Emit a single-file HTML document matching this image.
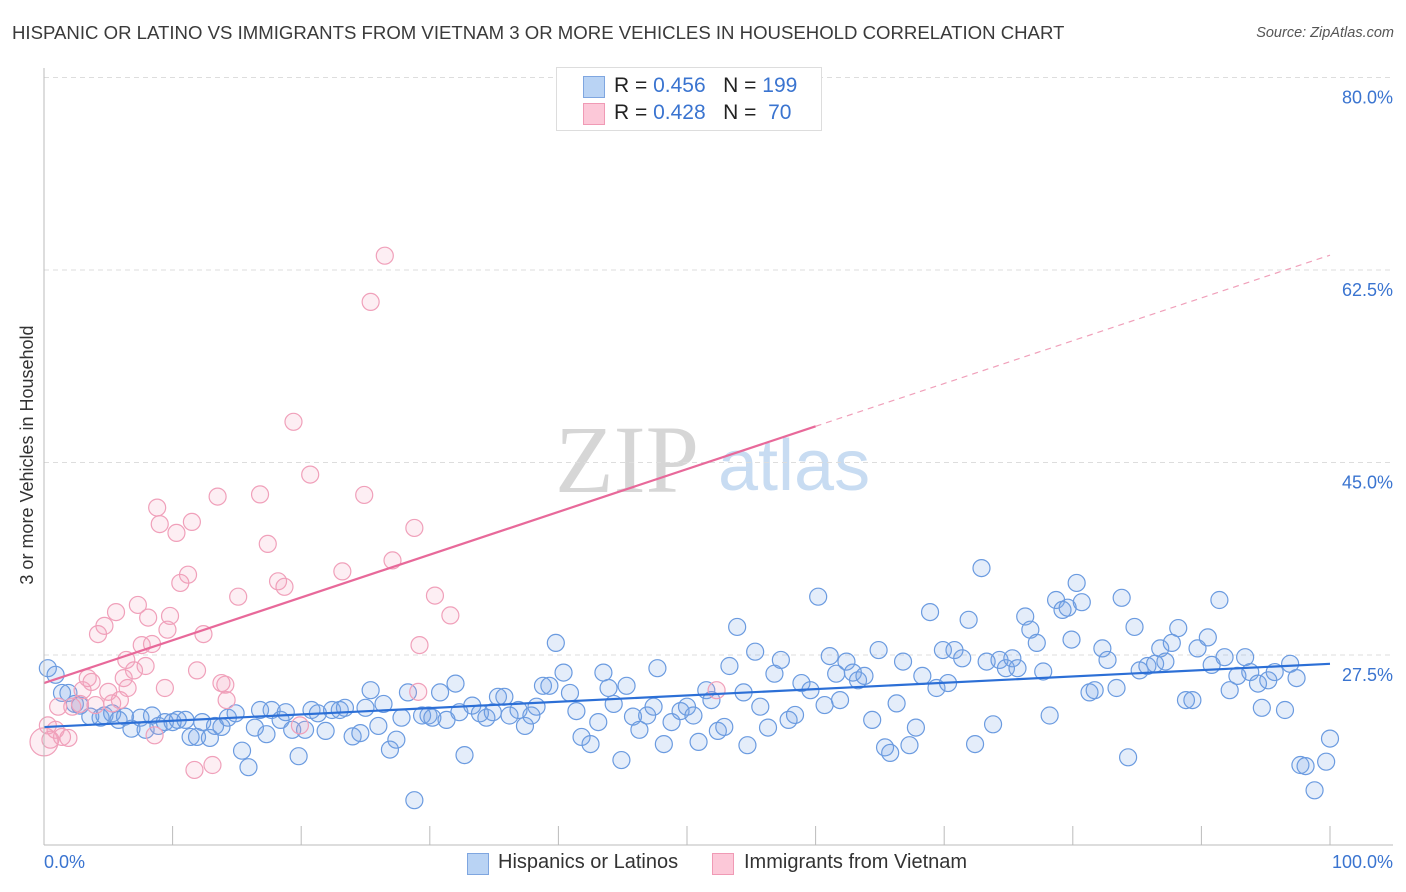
<!DOCTYPE html>
<html><head><meta charset="utf-8"><style>
body{margin:0;width:1406px;height:892px;background:#fff;font-family:"Liberation Sans",sans-serif;overflow:hidden;position:relative}
.t{position:absolute;white-space:nowrap}
</style></head><body>
<div class="t" style="left:12px;top:22px;font-size:18.6px;color:#3a3a3a">HISPANIC OR LATINO VS IMMIGRANTS FROM VIETNAM 3 OR MORE VEHICLES IN HOUSEHOLD CORRELATION CHART</div>
<div class="t" style="right:12px;top:25px;font-size:14.5px;color:#555;font-style:italic">Source: ZipAtlas.com</div>
<svg id="chart" width="1406" height="892" style="position:absolute;left:0;top:0">
<text x="555" y="492" font-family="Liberation Serif,serif" font-size="96" fill="#d6d6d6">ZIP</text>
<text x="718" y="490" font-family="Liberation Sans,sans-serif" font-size="72" fill="#c8dcf2">atlas</text>
<g id="grid"></g><g id="pts"></g><g id="lines"></g><g id="axes"></g>
<text x="33" y="455" transform="rotate(-90 33 455)" text-anchor="middle" font-size="18" fill="#333">3 or more Vehicles in Household</text>
</svg>
<div style="position:absolute;left:556px;top:67px;width:264px;height:62px;border:1px solid #ddd;background:#fff;font-size:21px;color:#222">
<div style="position:absolute;left:26px;top:8px;width:20px;height:20px;background:#b9d3f4;border:1px solid #7fa6e0"></div>
<div class="t" style="left:57px;top:6px">R = <span style="color:#3a74d0">0.456</span>&nbsp;&nbsp;&nbsp;N = <span style="color:#3a74d0">199</span></div>
<div style="position:absolute;left:26px;top:35px;width:20px;height:20px;background:#fcc8d8;border:1px solid #f09ab5"></div>
<div class="t" style="left:57px;top:33px">R = <span style="color:#3a74d0">0.428</span>&nbsp;&nbsp;&nbsp;N = &nbsp;<span style="color:#3a74d0">70</span></div>
</div>
<div class="t" style="left:44px;top:852px;font-size:18px;color:#3a74d0">0.0%</div>
<div class="t" style="right:13px;top:852px;font-size:18px;color:#3a74d0">100.0%</div>
<div style="position:absolute;left:467px;top:853px;width:20px;height:20px;background:#b9d3f4;border:1px solid #7fa6e0"></div>
<div class="t" style="left:498px;top:851px;font-size:20px;color:#333">Hispanics or Latinos</div>
<div style="position:absolute;left:712px;top:853px;width:20px;height:20px;background:#fcc8d8;border:1px solid #f09ab5"></div>
<div class="t" style="left:744px;top:851px;font-size:20px;color:#333">Immigrants from Vietnam</div>
<script>
const yTicks=[80,62.5,45,27.5];
const yTickLabels=["80.0%","62.5%","45.0%","27.5%"];
const xTicks=[0,10,20,30,40,50,60,70,80,90,100];
const blueX=[0.3,0.9,1.4,1.9,2.4,2.8,3.6,4.4,4.7,5.3,5.8,6.3,6.8,7.5,7.9,8.4,8.9,9.4,10,10.4,11,11.4,11.9,12.3,12.9,13.3,13.8,14.3,14.9,15.4,15.9,16.4,16.8,17.3,17.7,18.4,18.8,19.3,19.8,20.3,20.8,21.3,21.9,22.4,23,23.4,24,24.6,25,25.4,26,26.4,26.9,27.4,27.8,28.3,28.8,29.4,29.9,30.2,30.8,31.3,32,32.3,32.7,33.3,33.9,34.4,34.9,35.3,35.8,36.2,36.9,37.4,37.9,38.3,38.8,39.3,39.8,40.4,40.9,41.4,41.8,42.5,43.1,43.5,43.9,44.3,44.9,45.3,45.8,46.3,46.9,47.4,47.7,48.2,48.8,49.5,50,50.5,50.9,51.5,51.9,52.4,52.9,53.3,53.9,54.4,54.7,55.3,55.7,56.3,56.8,57.3,57.9,58.4,58.9,59.6,60.2,60.7,61.1,61.6,61.9,62.4,62.9,63.3,63.8,64.4,64.9,65.4,65.8,66.3,66.8,67.3,67.8,68.3,68.9,69.4,69.9,70.3,70.8,71.4,71.9,72.4,72.9,73.3,73.8,74.3,74.8,75.3,75.7,76.3,76.7,77.2,77.7,78.2,78.7,79.2,79.6,79.9,80.3,80.7,81.3,81.7,82.3,82.7,83.4,83.8,84.3,84.8,85.2,85.8,86.4,86.8,87.2,87.7,88.2,88.8,89.3,89.7,90.5,90.8,91.4,91.8,92.2,92.8,93.4,93.8,94.4,94.7,95.2,95.7,96.5,96.9,97.4,97.7,98.1,98.8,99.7,100];
const blueY=[26.3,25.7,24.05,24.05,23.05,22.9,21.9,21.8,22,22.2,21.6,21.9,20.8,21.8,20.7,22,21.05,21.4,21.4,21.6,21.6,20.05,20.05,21.4,19.96,21.05,20.96,21.8,22.2,18.8,17.3,20.9,22.5,20.3,22.5,21.6,22.3,20.7,18.3,20.7,22.5,22.2,20.6,22.5,22.5,22.7,20.1,20.4,22.7,24.3,21.05,23.05,18.9,19.8,21.8,24.1,14.3,22,22,21.8,24.1,21.6,24.9,22.3,18.4,22.9,22.2,21.8,22.3,23.7,23.7,22,22.5,21.05,22,22.8,24.7,24.7,28.6,25.9,24.05,22.4,20.05,19.4,21.4,25.9,24.5,23.05,17.95,24.7,21.9,20.7,22,22.8,26.3,19.4,21.4,22.4,22.8,22,19.6,24.3,23.4,20.6,20.96,26.5,30.05,24.1,19.3,27.8,22.8,20.9,25.8,27.05,21.6,22.05,24.95,24.3,32.8,22.95,27.4,25.8,23.4,26.9,25.9,25.2,25.6,21.6,27.95,19.1,18.6,23.1,26.9,19.3,20.9,25.6,31.4,24.5,27.95,24.95,27.95,27.2,30.7,19.4,35.4,26.9,21.2,27.05,26.3,27.2,26.3,31,29.8,28.6,26,22,32.5,31.6,31.8,28.9,34.05,32.3,24.1,24.3,28.1,27.05,24.5,32.7,18.2,30.05,26.1,26.5,26.7,28.1,26.9,28.6,29.95,23.4,23.4,28.1,29.1,26.6,32.5,27.3,24.3,25.6,27.3,25.95,24.9,22.7,25.2,25.95,22.5,26.7,25.4,17.5,17.4,15.2,17.8,19.9];
const pinkX=[0.3,0.5,0.9,1.1,1.4,1.9,2.2,2.8,3,3.4,3.7,4,4.2,4.7,5,5.3,5.6,5.9,6.2,6.4,6.5,7,7.3,7.6,7.9,8.1,8.4,8.6,8.8,9,9.4,9.6,9.8,10.3,10.6,11.2,11.5,11.7,11.9,12.4,13.1,13.5,13.8,14.1,14.2,15.1,16.8,17.4,18.2,18.7,19.4,19.9,20.7,23.2,24.9,25.4,26.5,27.1,28.8,29.1,29.2,30.4,31.6,52.3,0];
const pinkY=[21.1,19.8,20.7,22.8,20.05,19.96,22.8,23.05,24.3,25.4,25.05,22.95,29.4,30.15,24.15,23.1,31.4,23.4,25.4,27.05,24.5,26.1,32.05,28.4,26.5,30.9,28.5,20.2,40.9,39.4,24.5,29.8,31.05,38.6,34.05,34.8,39.6,17.05,26.1,29.4,17.5,41.9,24.95,24.8,23.4,32.8,42.1,37.6,34.2,33.7,48.7,21.1,43.9,35.1,42.05,59.6,63.8,36.1,39.05,24.15,28.4,32.9,31.1,24.3,19.6];
const blueTrend=[20.95,26.7];
const pinkTrend=[24.95,63.85];
const pinkSolidEnd=60;
const X0=44,X1=1330,Y0=957.5,PX=11.0;
const sx=v=>X0+(X1-X0)*v/100, sy=v=>Y0-v*PX;
const NS="http://www.w3.org/2000/svg";
function mk(p,tag,a){const e=document.createElementNS(NS,tag);for(const k in a)e.setAttribute(k,a[k]);document.getElementById(p).appendChild(e);return e;}
yTicks.forEach((t,i)=>{
 const l=mk('grid','line',{x1:44,x2:1393,y1:sy(t),y2:sy(t),stroke:'#ddd','stroke-dasharray':'5,4'});
 
 
 const tx=mk('grid','text',{x:1393,y:sy(t)+26,'text-anchor':'end','font-size':18,fill:'#3a74d0'});
 tx.textContent=yTickLabels[i];
 
 
});
const ax=mk('axes','line',{x1:44,x2:44,y1:68,y2:845,stroke:'#bbb'});


const bx=mk('axes','line',{x1:44,x2:1393,y1:845,y2:845,stroke:'#bbb'});


xTicks.forEach(t=>{
 const k=mk('axes','line',{x1:sx(t),x2:sx(t),y1:826,y2:845,stroke:'#bbb'});
 
 
});
blueX.forEach((x,i)=>{
 const c=mk('pts','circle',{cx:sx(x),cy:sy(blueY[i]),r:8.5,fill:'rgba(120,165,230,0.2)',stroke:'#6b9be0','stroke-width':1.2});
 
 
});
pinkX.forEach((x,i)=>{
 const c=mk('pts','circle',{cx:sx(x),cy:sy(pinkY[i]),r:i==pinkX.length-1?14:8.5,fill:'rgba(245,160,190,0.18)',stroke:'#f0a0ba','stroke-width':1.2});
 
 
});
const bl=mk('lines','line',{x1:sx(0),y1:sy(blueTrend[0]),x2:sx(100),y2:sy(blueTrend[1]),stroke:'#2c6fd6','stroke-width':2.2});


const pe=pinkTrend[0]+(pinkTrend[1]-pinkTrend[0])*pinkSolidEnd/100;
const pl=mk('lines','line',{x1:sx(0),y1:sy(pinkTrend[0]),x2:sx(pinkSolidEnd),y2:sy(pe),stroke:'#e8699a','stroke-width':2.2});


const pd=mk('lines','line',{x1:sx(pinkSolidEnd),y1:sy(pe),x2:sx(100),y2:sy(pinkTrend[1]),stroke:'#f0a0ba','stroke-width':1.2,'stroke-dasharray':'6,5'});


</script>
</body></html>
